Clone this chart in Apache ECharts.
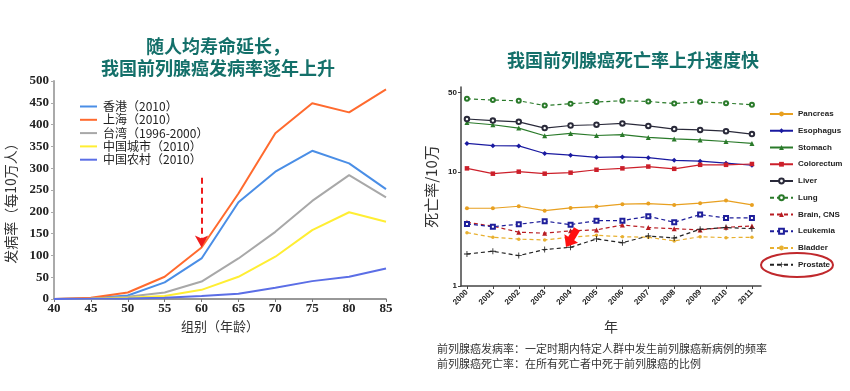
<!DOCTYPE html>
<html><head><meta charset="utf-8">
<script src="https://cdn.jsdelivr.net/npm/echarts@6/dist/echarts.min.js"></script>
<style>html,body{margin:0;padding:0;background:#fff}#c{width:850px;height:391px}</style>
</head><body><div id="c"></div>
<script>
// Left chart: incidence by age group
const ages = [40,45,50,55,60,65,70,75,80,85];
const hongKong = [0,2,8,38,93,222,292,340,311,252];
const shanghai = [0,3,15,51,118,242,380,449,428,481];
const taiwan = [0,1,5,15,40,93,154,225,284,233];
const chinaUrban = [0,0.5,3,7,21,51,97,158,199,177];
const chinaRural = [0,0.3,1,3,7,12,26,41,51,70];
const leftNames = ['香港（2010）','上海（2010）','台湾（1996-2000）','中国城市（2010）','中国农村（2010）'];

// Right chart: mortality per 100k by year (log scale)
const years = [2000,2001,2002,2003,2004,2005,2006,2007,2008,2009,2010,2011];
const pancreas   = [4.82,4.82,5.02,4.59,4.85,4.99,5.23,5.30,5.16,5.34,5.63,5.16];
const esophagus  = [17.9,17.1,17.0,14.6,14.1,13.5,13.6,13.4,12.7,12.5,12.0,11.5];
const stomach    = [27.3,26.1,24.4,20.9,21.9,21.0,21.4,20.2,19.6,19.2,18.6,17.9];
const colorectum = [10.8,9.7,10.1,9.7,9.9,10.5,10.8,11.2,10.7,11.6,11.6,11.8];
const liver      = [29.3,28.4,27.7,24.4,25.7,26.1,26.8,25.5,23.9,23.5,22.9,21.6];
const lung       = [44.1,43.0,42.4,38.5,39.9,41.3,42.4,41.8,40.1,41.5,40.4,39.1];
const brainCNS   = [3.63,3.35,2.97,2.91,3.05,3.11,3.44,3.26,3.19,3.11,3.28,3.37];
const leukemia   = [3.51,3.32,3.49,3.71,3.46,3.75,3.75,4.10,3.63,4.24,3.96,3.96];
const bladder    = [2.94,2.68,2.58,2.54,2.68,2.79,2.71,2.68,2.49,2.71,2.66,2.68];
const prostate   = [1.91,2.02,1.85,2.09,2.19,2.59,2.40,2.75,2.64,3.15,3.26,3.19];
const yLogTicks = [1,10,50];

const zip = (xs, ys) => xs.map((x,i)=>[x, ys[i]]);
const chart = echarts.init(document.getElementById('c'), null, {renderer:'canvas'});
const plus = 'path://M4.3,0 L5.7,0 L5.7,4.3 L10,4.3 L10,5.7 L5.7,5.7 L5.7,10 L4.3,10 L4.3,5.7 L0,5.7 L0,4.3 L4.3,4.3 Z';
const teal = '#14706a';
const sansCJK = '"Noto Sans CJK SC", "Noto Sans", sans-serif';

function lline(name, data, color, extra){
  return Object.assign({
    name, type:'line', xAxisIndex:0, yAxisIndex:0, data: zip(ages,data),
    showSymbol:false, symbol:'none', smooth:false,
    lineStyle:{color, width:2}, itemStyle:{color}, z:3
  }, extra||{});
}
function rline(name, data, color, symbol, size, dashed){
  return {
    name, type:'line', xAxisIndex:1, yAxisIndex:1, data: zip(years,data),
    symbol, symbolSize:size, showSymbol:true,
    lineStyle:{color, width:1.2, type: dashed ? [4,3] : 'solid'},
    itemStyle:{color, borderWidth:1.1},
    z:3
  };
}

const option = {
  animation:false,
  backgroundColor:'#fff',
  title:[
    {text:'随人均寿命延长，\n我国前列腺癌发病率逐年上升', left:213, top:30, textAlign:'center',
     textStyle:{fontFamily:sansCJK, fontSize:18, fontWeight:'bold', color:teal, lineHeight:22}},
    {text:'我国前列腺癌死亡率上升速度快', left:628, top:46, textAlign:'center',
     textStyle:{fontFamily:sansCJK, fontSize:18, fontWeight:'bold', color:teal}}
  ],
  legend:[
    {data:leftNames, orient:'vertical', left:80, top:100, padding:0, itemWidth:17, itemHeight:2, itemGap:0.3,
     icon:'rect',
     textStyle:{fontFamily:sansCJK, fontSize:12, color:'#222', lineHeight:13, padding:[0,0,0,1]}},
    {data:['Pancreas','Esophagus','Stomach','Colorectum','Liver','Lung','Brain, CNS','Leukemia','Bladder','Prostate'],
     orient:'vertical', left:769, top:109, padding:0, itemWidth:23, itemHeight:6, itemGap:6.75,
     textStyle:{fontFamily:'"Liberation Sans", Arial, sans-serif', fontSize:8, fontWeight:'bold', color:'#222', lineHeight:10}}
  ],
  grid:[
    {left:54, right:464, top:81, bottom:92},
    {left:461, right:89, top:87, bottom:105}
  ],
  xAxis:[
    {gridIndex:0, type:'value', min:40, max:85, interval:5,
     name:'组别（年龄）', nameLocation:'middle', nameGap:19,
     nameTextStyle:{fontFamily:sansCJK, fontSize:13, color:'#333'},
     axisLine:{show:true, lineStyle:{color:'#777', width:1.5}},
     axisTick:{show:true, length:3, lineStyle:{color:'#777'}},
     splitLine:{show:false},
     axisLabel:{fontFamily:'"Liberation Serif", serif', fontWeight:'bold', fontSize:13, color:'#222', margin:3}},
    {gridIndex:1, type:'value', min:1999.77, max:2011.35,
     name:'年', nameLocation:'middle', nameGap:34,
     nameTextStyle:{fontFamily:sansCJK, fontSize:14, color:'#333'},
     axisLine:{show:true, onZero:false, lineStyle:{color:'#444', width:1.5}},
     axisTick:{show:true, length:3, customValues:years, lineStyle:{color:'#444'}},
     splitLine:{show:false},
     axisLabel:{customValues:years, rotate:45, fontFamily:'"Liberation Sans", Arial, sans-serif', fontWeight:'bold', fontSize:8, color:'#222', margin:5,
       formatter:v=>String(Math.round(v))}}
  ],
  yAxis:[
    {gridIndex:0, type:'value', min:0, max:500, interval:50,
     name:'发病率（每10万人）', nameLocation:'middle', nameGap:36,
     nameTextStyle:{fontFamily:sansCJK, fontSize:14, color:'#333', padding:[0,20,0,0]},
     axisLine:{show:true, lineStyle:{color:'#aaa', width:2}},
     axisTick:{show:true, length:3, lineStyle:{color:'#aaa'}},
     splitLine:{show:false},
     axisLabel:{fontFamily:'"Liberation Serif", serif', fontWeight:'bold', fontSize:13, color:'#222', margin:5}},
    {gridIndex:1, type:'log', logBase:10, min:1, max:56,
     name:'死亡率/10万', nameLocation:'middle', nameGap:22,
     nameTextStyle:{fontFamily:sansCJK, fontSize:15, color:'#333'},
     axisLine:{show:true, onZero:false, lineStyle:{color:'#444', width:1.5}},
     axisTick:{show:true, length:3, customValues:yLogTicks, lineStyle:{color:'#444'}},
     splitLine:{show:false}, minorTick:{show:false},
     axisLabel:{customValues:yLogTicks, fontFamily:'"Liberation Sans", Arial, sans-serif', fontWeight:'bold', fontSize:8, color:'#222', margin:4}}
  ],
  series:[
    lline(leftNames[0], hongKong, '#4a8ee6'),
    lline(leftNames[1], shanghai, '#ff6a2e', {
      markLine:{silent:true, symbol:['none','arrow'], symbolSize:[10,12], label:{show:false},
        lineStyle:{color:'#ee1c1c', type:[6,4], width:2},
        data:[[{coord:[60,278]},{coord:[60,118]}]]}
    }),
    lline(leftNames[2], taiwan, '#a8a8a8'),
    lline(leftNames[3], chinaUrban, '#ffee33'),
    lline(leftNames[4], chinaRural, '#5b6ee6'),
    rline('Pancreas', pancreas, '#e8a020', 'circle', 4, false),
    rline('Esophagus', esophagus, '#1a1aa0', 'diamond', 5, false),
    rline('Stomach', stomach, '#2a7a2a', 'triangle', 5, false),
    rline('Colorectum', colorectum, '#cc1f2a', 'rect', 4.5, false),
    rline('Liver', liver, '#2a2a3a', 'emptyCircle', 4.5, false),
    rline('Lung', lung, '#2a7a2a', 'emptyCircle', 4, true),
    rline('Brain, CNS', brainCNS, '#b81c22', 'triangle', 5, true),
    rline('Leukemia', leukemia, '#1e1e9a', 'emptyRect', 4, true),
    rline('Bladder', bladder, '#e8b030', 'circle', 3.5, true),
    rline('Prostate', prostate, '#222', plus, 6, true)
  ],
  graphic:[
    {type:'polygon', z:100, shape:{points:[[580,230.8],[574.2,240.3],[578,242.7],[566,247],[564.4,234.3],[568.2,236.7],[574,227.2]]},
     style:{fill:'#ff1010'}},
    {type:'ellipse', z:100, shape:{cx:797, cy:265, rx:36, ry:12}, style:{fill:'none', stroke:'#c0282c', lineWidth:2}},
    {type:'text', left:437, top:341, z:100, style:{text:'前列腺癌发病率：一定时期内特定人群中发生前列腺癌新病例的频率\n前列腺癌死亡率：在所有死亡者中死于前列腺癌的比例',
      font:'11px "Noto Sans CJK SC", sans-serif', fill:'#333', lineHeight:15}}
  ]
};
chart.setOption(option);
</script></body></html>
